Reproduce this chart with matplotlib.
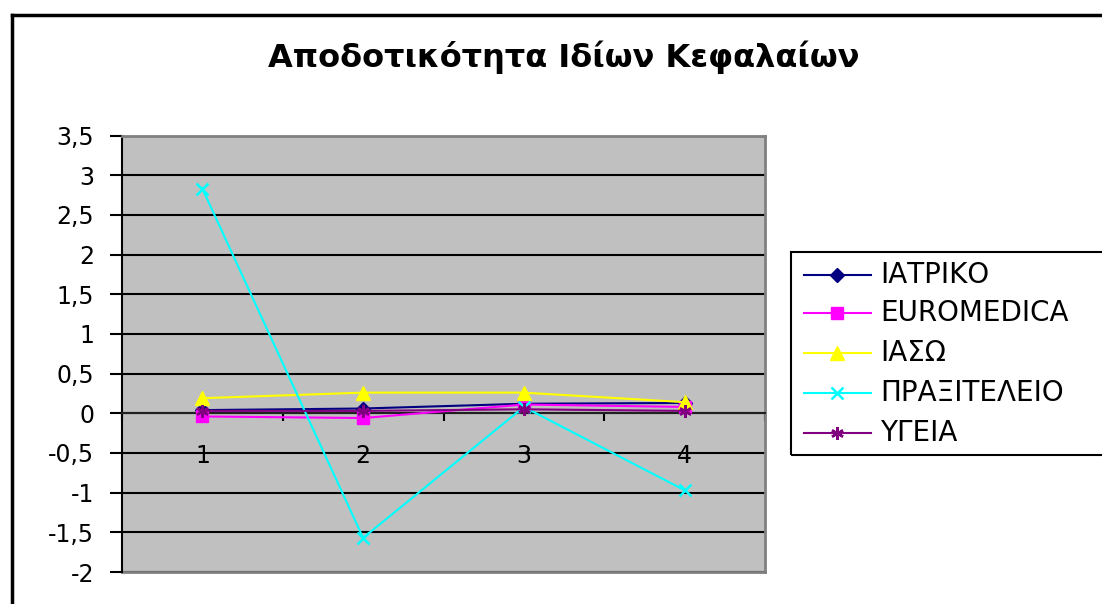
import matplotlib.pyplot as plt
from matplotlib.lines import Line2D
from matplotlib.patches import Rectangle

plt.rcParams['font.family'] = ['DejaVu Sans']

title = "Αποδοτικότητα Ιδίων Κεφαλαίων"
periods = [1, 2, 3, 4]
iatriko = [0.04, 0.06, 0.12, 0.13]
euromedica = [-0.04, -0.06, 0.11, 0.08]
iaso = [0.19, 0.26, 0.26, 0.14]
praxiteleio = [2.83, -1.57, 0.08, -0.97]
ygeia = [0.03, 0.03, 0.05, 0.03]
names = ["ΙΑΤΡΙΚΟ", "EUROMEDICA", "ΙΑΣΩ", "ΠΡΑΞΙΤΕΛΕΙΟ", "ΥΓΕΙΑ"]
yticks = [-2, -1.5, -1, -0.5, 0, 0.5, 1, 1.5, 2, 2.5, 3, 3.5]
ytick_labels = ["-2", "-1,5", "-1", "-0,5", "0", "0,5", "1", "1,5", "2", "2,5", "3", "3,5"]

series = [iatriko, euromedica, iaso, praxiteleio, ygeia]
colors = ['#000080', '#FF00FF', '#FFFF00', '#00FFFF', '#800080']
markers = ['D', 's', '^', 'x', (6, 2, 0)]
msizes = [7, 8, 10, 8, 9]

fig = plt.figure(figsize=(11.02, 6.04), dpi=100)
W, H = 1102, 604
ax = fig.add_axes([122 / W, 1 - 572 / H, (765 - 122) / W, (572 - 135.5) / H])
ax.set_facecolor('#C0C0C0')

for s, c, m, ms in zip(series, colors, markers, msizes):
    ax.plot(periods, s, color=c, marker=m, markersize=ms, lw=1.5,
            markeredgewidth=1.8 if m in ('x', (6, 2, 0)) else 1, clip_on=False, zorder=3)

ax.set_xlim(0.5, 4.5)
ax.set_ylim(-2, 3.5)
ax.set_yticks(yticks)
ax.set_yticklabels(ytick_labels, fontsize=17)
ax.yaxis.grid(True, color='black', lw=1.5)
ax.set_axisbelow(True)
ax.tick_params(axis='y', direction='out', length=9, width=1.5, pad=11)

# category axis crosses at 0
ax.spines['bottom'].set_position(('data', 0))
ax.spines['bottom'].set_color('#202020')
ax.spines['bottom'].set_linewidth(1.5)
ax.set_xticks([0.5, 1.5, 2.5, 3.5, 4.5])
ax.set_xticklabels([])
ax.set_xticks(periods, minor=True)
ax.set_xticklabels([str(p) for p in periods], minor=True, fontsize=17)
ax.tick_params(axis='x', which='major', direction='out', length=6, width=1.5)
ax.tick_params(axis='x', which='minor', length=0, pad=22)
ax.spines['left'].set_linewidth(1.5)
for sp in ['top', 'right']:
    ax.spines[sp].set_color('#808080')
    ax.spines[sp].set_linewidth(2)
# bottom border of plot area
ax.add_line(Line2D([0, 1], [0, 0], transform=ax.transAxes, color='#808080', lw=2, clip_on=False))

fig.text(564 / W, 1 - 57 / H, title, ha='center', va='center', fontsize=23, fontweight='bold')

# outer chart border
fig.add_artist(Line2D([12 / W, 12 / W], [0, 1 - 15 / H], color='black', lw=2.5))
fig.add_artist(Line2D([12 / W, 1], [1 - 15 / H, 1 - 15 / H], color='black', lw=2.5))

# legend
fig.add_artist(Rectangle((791 / W, 1 - 455 / H), (1110 - 791) / W, (455 - 252) / H,
                         transform=fig.transFigure, fill=False, ec='black', lw=1.5))
rows = [275, 313, 353, 393, 433]
for y, n, c, m, ms in zip(rows, names, colors, markers, msizes):
    yf = 1 - y / H
    fig.add_artist(Line2D([804 / W, 871 / W], [yf, yf], color=c, lw=1.5))
    fig.add_artist(Line2D([837 / W], [yf], color=c, marker=m, markersize=ms,
                          markeredgewidth=1.8 if m in ('x', (6, 2, 0)) else 1))
    fig.text(880 / W, yf, n, ha='left', va='center', fontsize=20)

fig.savefig('out.png', dpi=100)
